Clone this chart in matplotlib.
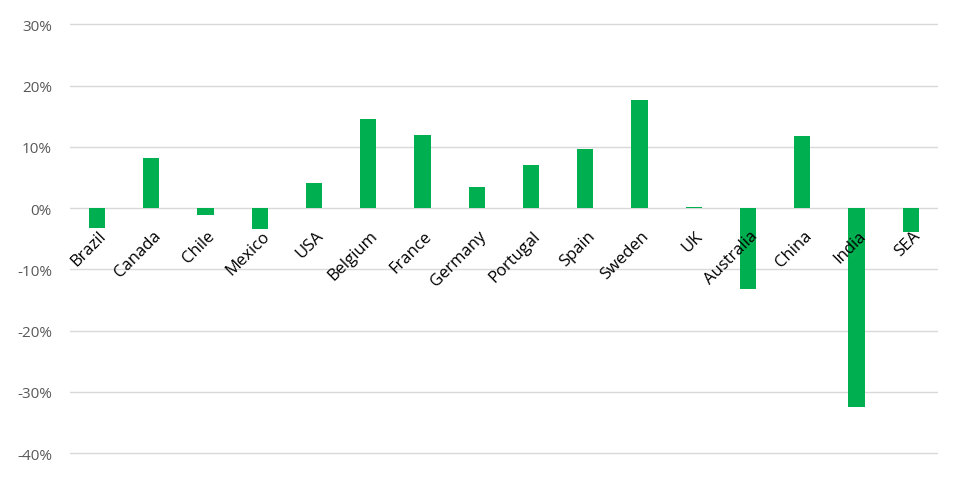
import matplotlib.pyplot as plt
from matplotlib.ticker import FuncFormatter

countries = ["Brazil", "Canada", "Chile", "Mexico", "USA", "Belgium", "France",
             "Germany", "Portugal", "Spain", "Sweden", "UK", "Australia",
             "China", "India", "SEA"]
changes = [-3.3, 8.1, -1.1, -3.4, 4.1, 14.5, 11.9, 3.4, 7.0, 9.6, 17.7, 0.2,
           -13.2, 11.7, -32.4, -3.9]
y_ticks = [-40, -30, -20, -10, 0, 10, 20, 30]

plt.rcParams['font.family'] = ['Open Sans', 'DejaVu Sans']

fig = plt.figure(figsize=(9.64, 4.81), dpi=100)
ax = fig.add_axes([0.0726, 0.052, 0.9004, 0.898])

x = list(range(len(countries)))
ax.bar(x, changes, width=0.3, color="#00B050", zorder=2)

ax.set_xlim(-0.5, len(countries) - 0.5)
ax.set_ylim(-40.3, 30.2)
ax.set_yticks(y_ticks)
ax.yaxis.set_major_formatter(FuncFormatter(lambda v, p: f"{v:.0f}%".replace("\u2212", "-")))
ax.tick_params(axis='y', length=0, pad=13, labelsize=11, labelcolor="#595959")
ax.set_xticks([])
ax.grid(axis='y', color="#D9D9D9", linewidth=1, zorder=0)
for s in ax.spines.values():
    s.set_visible(False)

# category names sit just under the zero line, rotated like Excel does
for i, name in enumerate(countries):
    ax.annotate(name, xy=(i, 0), xytext=(1, -14), textcoords='offset points',
                rotation=45, rotation_mode='anchor', ha='right', va='top',
                fontsize=12, color="black", zorder=5)

fig.savefig("out.png", dpi=100)
